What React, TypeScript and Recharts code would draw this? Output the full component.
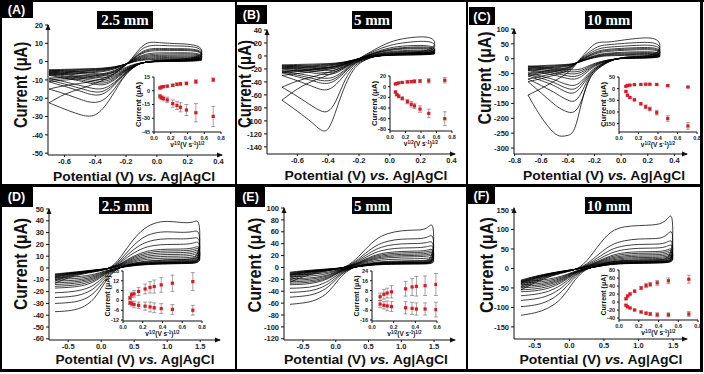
import React from "react";
import { LineChart, Line, XAxis, YAxis, ScatterChart, Scatter, ErrorBar } from "recharts";

const SANS = "'Liberation Sans', Arial, sans-serif";
const SERIF = "'Liberation Serif', 'Times New Roman', serif";

// square root of scan rate, (V s-1)^1/2
const sqrtRate = [0.071, 0.087, 0.112, 0.158, 0.224, 0.274, 0.316, 0.387, 0.5, 0.707];
const sqrtRateE = [0.075, 0.11, 0.14, 0.18, 0.31, 0.37, 0.41, 0.49, 0.59];

// ---- (A) 2.5 mm ----
const fwdA = [-0.7, -0.6, -0.5, -0.4, -0.3, -0.2, -0.15, -0.1, -0.05, 0, 0.1, 0.3];
const revA = [0.3, 0.1, 0, -0.1, -0.15, -0.2, -0.25, -0.3, -0.35, -0.4, -0.45, -0.5, -0.6, -0.7];
const cvA = [
  [-4.5, -4.2, -4, -3.8, -3.3, -1.5, 0, 0.8, 1.1, 1.2, 1.3, 1.5, 0.3, 0.1, 0, -0.5, -1.5, -3, -5, -6.5, -7, -6.5, -6, -5.6, -5, -4.5],
  [-5, -4.6, -4.3, -4.1, -3.5, -1.5, 0.1, 1.1, 1.5, 1.7, 1.8, 2, 0.4, 0.2, 0.1, -0.5, -1.7, -3.5, -5.8, -7.5, -8, -7.5, -7, -6.5, -5.8, -5],
  [-5.5, -5, -4.7, -4.4, -3.8, -1.5, 0.3, 1.5, 2, 2.2, 2.3, 2.5, 0.5, 0.3, 0.2, -0.5, -2, -4, -6.5, -8.5, -9, -8.5, -8, -7.5, -6.5, -5.5],
  [-6, -5.5, -5.1, -4.7, -4, -1.5, 0.5, 2, 2.6, 2.8, 2.9, 3.1, 0.6, 0.35, 0.25, -0.5, -2.1, -4.2, -7, -9.2, -10, -9.5, -8.9, -8.2, -7.1, -6],
  [-6.5, -6, -5.5, -5, -4.2, -1.5, 0.8, 2.5, 3.2, 3.4, 3.5, 3.8, 0.7, 0.4, 0.3, -0.5, -2.2, -4.5, -7.5, -10, -11, -10.5, -9.8, -9, -7.8, -6.5],
  [-7, -6.5, -6, -5.5, -4.6, -1.5, 1, 3, 3.8, 4.1, 4.2, 4.4, 0.75, 0.45, 0.3, -0.5, -2.3, -4.7, -8, -10.8, -12, -11.5, -10.7, -9.8, -8.4, -7],
  [-7.5, -7, -6.5, -6, -5, -1.5, 1.2, 3.5, 4.5, 4.8, 4.8, 5, 0.8, 0.5, 0.3, -0.5, -2.5, -5, -8.5, -11.5, -13, -12.5, -11.5, -10.5, -9, -7.5],
  [-9, -8.5, -8, -7.2, -6, -1.8, 1.5, 4.5, 5.8, 6, 6, 6.2, 1, 0.7, 0.4, -0.5, -2.5, -5.5, -9.5, -13, -15, -15, -14, -13, -11, -9],
  [-10, -9.2, -8.8, -7.8, -6.5, -1.9, 1.8, 5, 6.4, 6.7, 6.5, 6.7, 1.1, 0.75, 0.45, -0.5, -2.6, -5.7, -10, -14, -16.5, -16.8, -15.8, -14.5, -12.2, -10],
  [-11, -10, -9.5, -8.5, -7, -2, 2, 5.5, 7, 7.3, 7, 7.2, 1.2, 0.8, 0.5, -0.5, -2.8, -6, -10.5, -15, -18, -18.5, -17.5, -16, -13.5, -11],
  [-15, -13, -12, -10.5, -8, -2, 2.5, 7, 8.8, 9, 8.5, 8.5, 1.5, 1, 0.6, -0.5, -3, -6.5, -12, -17.5, -21.5, -22.5, -22, -20.5, -17.5, -15],
  [-22.5, -17.5, -15, -12, -8.5, -2, 3, 8.5, 10.8, 10.5, 9.8, 9.5, 2, 1.2, 0.8, -0.5, -3, -6.5, -13, -20, -26, -29.5, -30, -29, -26, -22.5],
];
const ipaA = [3, 4, 4.5, 5, 6, 7, 7.5, 8, 10, 12];
const ipaErrA = [1, 1, 1, 1, 1.2, 1.5, 1.5, 1.5, 2, 2];
const ipcA = [-6, -7.5, -8.5, -10, -14, -16, -18, -21, -24, -28];
const ipcErrA = [2, 2, 2.5, 3, 4, 4.5, 5, 6, 10, 11];

// ---- (B) 5 mm ----
const fwdB = [-0.7, -0.6, -0.5, -0.4, -0.3, -0.2, -0.1, 0, 0.1, 0.3];
const revB = [0.3, 0.1, 0, -0.1, -0.2, -0.25, -0.3, -0.35, -0.4, -0.45, -0.5, -0.6, -0.7];
const cvB = [
  [-14, -13, -12.5, -12, -10, -4, 1, 3, 4, 5, 2, 1.5, 1, 0, -4, -8, -13, -17, -18, -17.5, -16.5, -15, -14],
  [-15.5, -14.5, -13.8, -13, -10.5, -4, 1.5, 4, 5, 6, 2.2, 1.8, 1.2, 0, -4.5, -9, -15, -19.5, -20.5, -20, -19, -17, -15.5],
  [-17, -16, -15, -14, -11, -4, 2, 5, 6, 7, 2.5, 2, 1.5, 0, -5, -10, -17, -22, -23, -22, -21, -19, -17],
  [-18.5, -17.5, -16.5, -15, -11.5, -4, 2.5, 6, 7.2, 8.5, 2.8, 2.2, 1.8, 0, -5.5, -11, -18.5, -24.5, -26, -25, -23.5, -21, -18.5],
  [-20, -19, -18, -16, -12, -4, 3, 7, 8.5, 10, 3, 2.5, 2, 0, -6, -12, -20, -27, -29, -28, -26, -23, -20],
  [-23, -22, -20, -18, -13, -4, 4, 9, 11, 12, 3.5, 3, 2, 0, -6.5, -13, -23, -32, -35, -34, -31, -27, -23],
  [-24.5, -23, -21, -18.5, -13.5, -4, 4.5, 10, 12.2, 13.5, 3.8, 3, 2, 0, -6.8, -14, -25, -35, -39, -38, -34.5, -29.5, -24.5],
  [-26, -24, -22, -19, -14, -4, 5, 11, 13.5, 15, 4, 3, 2, 0, -7, -15, -27, -38, -43, -42, -38, -32, -26],
  [-30, -27, -24, -21, -15, -4, 6, 13, 16, 17, 4.5, 3.5, 2.5, 0, -7.5, -17, -31, -45, -53, -52, -47, -38, -30],
  [-48, -38, -32, -26, -17, -4, 8, 17, 21, 25, 6, 4, 3, 0, -9, -20, -40, -72, -88, -85, -78, -62, -48],
  [-68, -50, -38, -30, -19, -4, 10, 22, 28, 32, 8, 5, 3, 0, -10, -25, -50, -85, -118, -115, -103, -85, -68],
];
const ipaB = [5, 6, 7, 8, 9, 9.5, 10, 10.5, 11, 12];
const ipaErrB = [1, 1, 1, 1.5, 2, 2, 3, 3, 4, 5];
const ipcB = [-10, -15, -18, -22, -28, -33, -36, -42, -50, -60];
const ipcErrB = [2, 2, 3, 3, 4, 5, 5, 6, 8, 13];

// ---- (C) 10 mm ----
const fwdC = [-0.7, -0.6, -0.5, -0.4, -0.35, -0.3, -0.25, -0.2, -0.15, -0.1, 0, 0.1, 0.3];
const revC = [0.3, 0.1, 0, -0.1, -0.2, -0.25, -0.3, -0.35, -0.4, -0.45, -0.5, -0.6, -0.7];
const cvC = [
  [-25, -23, -21, -19, -16, -9, -2, 4, 8, 10, 11, 12, 13, 3, 2, 1, -3, -15, -25, -35, -38, -36, -34, -32, -28, -25],
  [-28, -26, -23.5, -20.5, -16.5, -8.5, -1, 5.5, 10, 12, 13.5, 14.5, 16, 3.5, 2.5, 1.5, -3.5, -17, -29, -41, -45, -43, -40, -37, -32, -28],
  [-32, -29, -26, -22, -17, -8, 0, 7, 12, 14, 16, 17, 19, 4, 3, 2, -4, -20, -33, -47, -52, -50, -46, -42, -37, -32],
  [-36, -32.5, -28.5, -24, -17.5, -7, 1.5, 9, 14, 16.5, 19, 20, 22, 4.5, 3.5, 2, -4.5, -22, -37, -54, -61, -58, -53, -48, -42, -36],
  [-40, -36, -31, -26, -18, -6, 3, 11, 16, 19, 22, 23, 25, 5, 4, 2, -5, -25, -42, -62, -70, -67, -61, -55, -47, -40],
  [-48, -43, -37, -30, -19, -4, 6, 16, 22, 25, 28, 30, 32, 6, 4, 3, -6, -30, -52, -78, -92, -88, -80, -70, -58, -48],
  [-53, -47, -40, -32, -19.5, -3, 8, 19, 25.5, 28.5, 31.5, 33.5, 36, 6.5, 4.5, 3, -6.5, -32, -57, -86, -105, -101, -92, -80, -65, -53],
  [-58, -51, -43, -34, -20, -2, 10, 22, 29, 32, 35, 37, 40, 7, 5, 3, -7, -35, -62, -95, -118, -115, -104, -90, -73, -58],
  [-68, -59, -49, -38, -21, 0, 14, 28, 36, 39, 42, 45, 48, 8, 6, 4, -8, -35, -65, -120, -147, -140, -128, -113, -90, -68],
  [-77, -67, -55, -42, -23, 2, 19, 36, 45, 47, 51, 54, 58, 10, 7, 5, -9, -40, -75, -150, -183, -180, -170, -155, -115, -77],
  [-122, -100, -75, -48, -26, 5, 28, 52, 57, 55, 62, 68, 75, 12, 8, 5, -10, -40, -70, -150, -250, -258, -262, -255, -200, -122],
];
const ipaC = [10, 14, 15, 17, 18, 19, 19, 18, 13, 7];
const ipaErrC = [2, 2, 2, 2, 3, 3, 3, 3, 4, 3];
const ipcC = [-12, -28, -38, -48, -65, -78, -87, -103, -128, -160];
const ipcErrC = [3, 4, 4, 4, 5, 8, 8, 10, 12, 14];

// ---- (D)(E)(F) share the potential grid ----
const fwdWide = [-0.7, -0.5, -0.25, 0, 0.2, 0.4, 0.6, 0.8, 1.0, 1.2, 1.4, 1.5];
const revWide = [1.5, 1.3, 1.0, 0.7, 0.5, 0.35, 0.2, 0.05, -0.1, -0.3, -0.5, -0.7];

const cvD = [
  [-5, -4, -2.5, -1, 0, 3, 5.5, 6.5, 7, 7, 7.5, 10, 4, 3.8, 3.5, 3, 2, 1, -0.6, -2.5, -5.5, -7.2, -7.8, -8],
  [-5.5, -4.2, -2.8, -1.1, 0, 3.8, 6.8, 8, 8.5, 8.5, 9, 12, 4.2, 4, 3.7, 3.2, 2.2, 1.1, -0.7, -3, -6.5, -8.6, -9.3, -9.5],
  [-6, -4.5, -3, -1.2, 0, 4.5, 8, 9.5, 10, 10, 10.5, 14, 4.5, 4.2, 4, 3.5, 2.5, 1.2, -0.8, -3.5, -7.5, -10, -10.8, -11],
  [-6.5, -4.8, -3.1, -1.3, 0.2, 5.2, 9.2, 11, 11.5, 11.5, 12, 15.5, 4.7, 4.5, 4.1, 3.6, 2.6, 1.3, -0.9, -4, -8.5, -11.2, -12.2, -12.5],
  [-7, -5, -3.2, -1.4, 0.3, 6, 10.5, 12.5, 13, 13, 13.5, 17, 5, 4.7, 4.3, 3.8, 2.8, 1.4, -1, -4.5, -9.5, -12.5, -13.5, -14],
  [-7.5, -5.2, -3.3, -1.5, 0.3, 6.8, 11.8, 14, 14.5, 14.5, 15, 18.5, 5.2, 4.8, 4.5, 3.9, 2.9, 1.5, -1.1, -5, -10.7, -14, -15, -15.5],
  [-8, -5.5, -3.5, -1.6, 0.3, 7.5, 13, 15.5, 16, 16, 16.5, 20, 5.5, 5, 4.7, 4, 3, 1.6, -1.2, -5.5, -12, -15.5, -16.5, -17],
  [-9, -6, -3.8, -1.8, 0.5, 9.5, 16.5, 19.5, 20, 20, 20.5, 24, 6, 5.5, 5, 4.2, 3.2, 1.8, -1.4, -6.5, -15, -19, -20.5, -21],
  [-10, -6.5, -4, -2, 0.5, 11.5, 20.5, 24, 25, 24.5, 25, 27, 6.5, 6, 5.5, 4.5, 3.4, 2, -1.6, -8, -18, -23, -24.5, -25],
  [-11, -7, -4.3, -2.2, 0.8, 14, 25.5, 30, 31, 30, 30.5, 33, 7, 6.5, 6, 5, 3.6, 2.2, -1.8, -10, -22, -28, -29.5, -30],
  [-13, -8, -4.6, -2.4, 1, 18, 32, 38.5, 40, 38.5, 38, 43, 8, 7.5, 7, 5.5, 4, 2.4, -2, -12, -27, -34.5, -36.5, -37],
];
const ipaD = [1.5, 3.5, 4, 5.5, 7, 8, 8.5, 9.5, 10.5, 11.5];
const ipaErrD = [1, 1.5, 2, 2.5, 3, 3.5, 4, 4.5, 5, 5.5];
const ipcD = [-1.5, -2, -2.5, -3, -3.5, -4, -4.5, -5, -5.5, -6];
const ipcErrD = [1, 1.5, 2, 2, 2.5, 3, 3, 3, 3, 3];

const cvE = [
  [-8, -5.5, -3.5, -1.5, 0, 5, 9, 10.5, 11, 11.5, 12, 14, 6, 5.8, 5.5, 5, 3.5, 1.5, -0.5, -3.5, -8, -11, -11.8, -12],
  [-9, -6.2, -4, -1.8, 0.2, 6.2, 11.5, 13.5, 14.2, 14.7, 15.2, 18, 6.5, 6.3, 6, 5.5, 3.7, 1.7, -0.8, -4.2, -10, -14, -15, -15.5],
  [-10, -7, -4.5, -2, 0.3, 7.5, 14, 16.5, 17.5, 18, 18.5, 22, 7, 6.8, 6.5, 6, 4, 1.8, -1, -5, -12.5, -17, -18.5, -19],
  [-11, -7.5, -4.7, -2.2, 0.4, 8.5, 15.8, 18.8, 19.8, 20.2, 20.8, 25, 7.2, 7, 6.7, 6.2, 4.1, 1.9, -1.1, -5.7, -14, -19, -21, -21.5],
  [-12, -8, -5, -2.3, 0.5, 9.5, 17.5, 21, 22, 22.5, 23, 28, 7.5, 7.2, 7, 6.5, 4.3, 2, -1.3, -6.5, -16, -21.5, -23.5, -24],
  [-13, -8.5, -5.2, -2.4, 0.6, 10.5, 19.5, 23.2, 24.5, 25, 25.5, 31, 7.8, 7.5, 7.2, 6.8, 4.5, 2.1, -1.5, -7.2, -17.5, -23.8, -26, -26.5],
  [-14, -9, -5.5, -2.6, 0.7, 11.5, 21.5, 25.5, 27, 27.5, 28, 34, 8, 7.7, 7.5, 7, 4.6, 2.2, -1.6, -8, -19, -26, -28.5, -29],
  [-16, -10, -6, -2.9, 1, 13.5, 26, 31, 33, 33, 34, 40, 8.5, 8.2, 8, 7.5, 5, 2.5, -2, -10, -23, -32, -34.5, -35],
  [-18, -11.5, -6.5, -3.2, 1.2, 16, 31, 37.5, 40, 40, 41, 47, 9, 8.7, 8.5, 8, 5.3, 2.7, -2.4, -12, -28, -38, -41, -42],
  [-21, -13, -7, -3.5, 1.5, 19, 37, 45, 48, 48, 49, 60, 10, 9.5, 9, 8.5, 5.7, 3, -2.8, -14, -33, -45, -48.5, -50],
  [-25, -15, -8, -4, 2, 24, 48, 58, 62, 63, 63, 82, 11, 10.5, 10, 9, 6, 3.3, -3.5, -18, -42, -56, -60, -62],
];
const ipaE = [3, 5, 6, 7, 9.5, 11, 11.5, 12, 13];
const ipaErrE = [3, 4, 4, 5, 6, 7, 8, 8, 9];
const ipcE = [-3, -4, -4.5, -5, -6, -6.5, -7, -7, -7.5];
const ipcErrE = [3, 3, 4, 4, 5, 5, 5, 5, 6];

const cvF = [
  [-30, -20, -11, -4, 0, 9, 17, 21, 22, 22, 23, 30, 15, 14, 13, 12, 8, 3, -1, -9, -20, -28, -32, -33],
  [-31.5, -21, -11.5, -4.2, 0.3, 10, 19.5, 24, 25, 25, 26, 34, 15.5, 14.5, 13.5, 12.5, 8.2, 3.1, -1.2, -10, -22.5, -32, -36, -37.5],
  [-33, -22, -12, -4.5, 0.5, 11, 22, 27, 28, 28, 29, 38, 16, 15, 14, 13, 8.5, 3.2, -1.5, -11, -25, -36, -40, -42],
  [-34.5, -23, -12.5, -4.7, 0.7, 12.5, 25, 30, 31.5, 31.5, 32.5, 42, 16.5, 15.5, 14.5, 13.5, 8.7, 3.3, -1.7, -12, -27.5, -39.5, -44, -46],
  [-36, -24, -13, -5, 1, 14, 28, 33, 35, 35, 36, 47, 17, 16, 15, 14, 9, 3.4, -2, -13, -30, -43, -48, -50],
  [-37.5, -25, -13.5, -5.2, 1.2, 15.5, 31, 37, 39, 39, 40, 52, 17.5, 16.5, 15.5, 14.5, 9.5, 3.5, -2.2, -14.5, -33, -47.5, -53, -55],
  [-39, -26, -14, -5.5, 1.5, 17, 34, 41, 43, 43, 44, 57, 18, 17, 16, 15, 10, 3.6, -2.5, -16, -36, -52, -58, -60],
  [-42, -28, -15, -6, 2, 21, 41, 49, 52, 52, 53, 68, 19, 18, 17, 16, 11, 3.8, -3, -19, -42, -60, -67, -70],
  [-46, -30, -16, -6.5, 2.5, 26, 50, 59, 62, 62, 63, 80, 20, 19, 18, 17, 12, 4, -3.5, -22, -50, -71, -79, -82],
  [-50, -33, -17, -7, 3, 33, 62, 72, 76, 76, 78, 111, 21, 20, 19, 18, 13, 4.2, -4, -27, -60, -85, -95, -98],
  [-55, -36, -18, -7.5, 4, 55, 98, 108, 110, 111, 116, 156, 23, 22, 21, 20, 14, 4.5, -5, -35, -78, -103, -115, -120],
];
const ipaF = [8, 15, 20, 27, 35, 41, 44, 48, 53, 57];
const ipaErrF = [2, 2, 3, 3, 4, 5, 5, 6, 7, 10];
const ipcF = [-8, -12, -15, -20, -25, -28, -30, -32, -32, -30];
const ipcErrF = [2, 2, 2, 2, 3, 3, 4, 5, 5, 6];

const ticksNarrow = [-0.6, -0.4, -0.2, 0, 0.2, 0.4];
const ticksWide = [-0.5, 0, 0.5, 1.0, 1.5];
const insetX8 = [0, 0.2, 0.4, 0.6, 0.8];

type Box = { x0: number; x1: number; yTop: number; yBot: number };

const panels = [
  {
    tag: "(A)", size: "2.5 mm", frame: [2, 2, 235, 184], tagBox: [0, 0, 33, 18], sizeBox: [97, 11, 56, 18],
    pot: [...fwdA, ...revA], curves: cvA,
    xDomain: [-0.707, 0.423], xTicks: ticksNarrow, yDomain: [-51, 20], yTicks: [-50, -40, -30, -20, -10, 0, 10, 20],
    plot: { x0: 48, x1: 222, yTop: 25, yBot: 155 }, yTitle: [21, 85, 86], xTitle: [134, 181, 162],
    inset: { box: { x0: 154, x1: 221, yTop: 77, yBot: 132 }, xs: sqrtRate, up: ipaA, upErr: ipaErrA, down: ipcA, downErr: ipcErrA, xDomain: [0, 0.8], xTicks: insetX8, yDomain: [-45, 15], yTicks: [-45, -30, -15, 0, 15] },
  },
  {
    tag: "(B)", size: "5 mm", frame: [237, 2, 466, 184], tagBox: [236, 5, 31, 19], sizeBox: [352, 11, 40, 18],
    pot: [...fwdB, ...revB], curves: cvB,
    xDomain: [-0.797, 0.423], xTicks: ticksNarrow, yDomain: [-151, 40], yTicks: [-140, -120, -100, -80, -60, -40, -20, 0, 20, 40],
    plot: { x0: 267, x1: 455, yTop: 30, yBot: 154 }, yTitle: [245, 84, 88], xTitle: [366, 180, 163],
    inset: { box: { x0: 390, x1: 452, yTop: 76, yBot: 131 }, xs: sqrtRate, up: ipaB, upErr: ipaErrB, down: ipcB, downErr: ipcErrB, xDomain: [0, 0.8], xTicks: insetX8, yDomain: [-83, 20], yTicks: [-80, -60, -40, -20, 0, 20] },
  },
  {
    tag: "(C)", size: "10 mm", frame: [468, 2, 700, 184], tagBox: [469, 7, 26, 18], sizeBox: [585, 11, 47, 18],
    pot: [...fwdC, ...revC], curves: cvC,
    xDomain: [-0.805, 0.495], xTicks: [-0.8, -0.6, -0.4, -0.2, 0, 0.2, 0.4], yDomain: [-320, 100], yTicks: [-300, -250, -200, -150, -100, -50, 0, 50, 100],
    plot: { x0: 514, x1: 687, yTop: 29, yBot: 154 }, yTitle: [485, 78, 93], xTitle: [604, 179.5, 162],
    inset: { box: { x0: 619, x1: 697, yTop: 77, yBot: 132 }, xs: sqrtRate, up: ipaC, upErr: ipaErrC, down: ipcC, downErr: ipcErrC, xDomain: [0, 0.8], xTicks: insetX8, yDomain: [-186, 50], yTicks: [-150, -100, -50, 0, 50] },
  },
  {
    tag: "(D)", size: "2.5 mm", frame: [2, 187, 235, 369], tagBox: [0, 186, 33, 21], sizeBox: [99, 197, 53, 17],
    pot: [...fwdWide, ...revWide], curves: cvD,
    xDomain: [-0.79, 1.8], xTicks: ticksWide, yDomain: [-61, 50], yTicks: [-60, -50, -40, -30, -20, -10, 0, 10, 20, 30, 40, 50],
    plot: { x0: 49, x1: 220, yTop: 209, yBot: 340 }, yTitle: [21, 264, 92], xTitle: [135, 364, 159],
    inset: { box: { x0: 123, x1: 202, yTop: 271, yBot: 321 }, xs: sqrtRate, up: ipaD, upErr: ipaErrD, down: ipcD, downErr: ipcErrD, xDomain: [0, 0.8], xTicks: insetX8, yDomain: [-12.6, 18], yTicks: [-12, -6, 0, 6, 12, 18] },
  },
  {
    tag: "(E)", size: "5 mm", frame: [237, 187, 466, 369], tagBox: [236, 186, 29, 21], sizeBox: [352, 197, 40, 17],
    pot: [...fwdWide, ...revWide], curves: cvE,
    xDomain: [-0.79, 1.82], xTicks: ticksWide, yDomain: [-122, 100], yTicks: [-120, -100, -80, -60, -40, -20, 0, 20, 40, 60, 80, 100],
    plot: { x0: 284, x1: 455, yTop: 208, yBot: 340 }, yTitle: [255, 265, 95], xTitle: [366, 364, 164],
    inset: { box: { x0: 372, x1: 437, yTop: 271, yBot: 321 }, xs: sqrtRateE, up: ipaE, upErr: ipaErrE, down: ipcE, downErr: ipcErrE, xDomain: [0, 0.6], xTicks: [0, 0.2, 0.4, 0.6], yDomain: [-16.8, 24], yTicks: [-16, -8, 0, 8, 16, 24] },
  },
  {
    tag: "(F)", size: "10 mm", frame: [468, 187, 700, 369], tagBox: [468, 186, 27, 18], sizeBox: [585, 197, 47, 17],
    pot: [...fwdWide, ...revWide], curves: cvF,
    xDomain: [-0.8, 1.7], xTicks: ticksWide, yDomain: [-181, 155], yTicks: [-150, -100, -50, 0, 50, 100, 150],
    plot: { x0: 514, x1: 687, yTop: 208, yBot: 339 }, yTitle: [487, 265, 96], xTitle: [601, 364, 163],
    inset: { box: { x0: 619, x1: 698, yTop: 270, yBot: 320 }, xs: sqrtRate, up: ipaF, upErr: ipaErrF, down: ipcF, downErr: ipcErrF, xDomain: [0, 0.8], xTicks: insetX8, yDomain: [-45, 80], yTicks: [-40, -20, 0, 20, 40, 60, 80] },
  },
];

const tickMain = { fontSize: 7.5, fill: "#222", fontFamily: SANS, fontWeight: 700 };
const tickInset = { fontSize: 5.5, fill: "#222", fontFamily: SANS, fontWeight: 700 };

const RedSquare = (props: any) =>
  props.cx == null ? null : <rect x={props.cx - 1.6} y={props.cy - 1.6} width={3.2} height={3.2} fill="#e8141c" />;

function MainChart({ p }: { p: any }) {
  const [L, T, R, B] = p.frame;
  const { x0, x1, yTop, yBot } = p.plot as Box;
  const lines = p.curves.map((ys: number[]) => ys.map((y, i) => ({ x: p.pot[i], y })));
  return (
    <div style={{ position: "absolute", left: L, top: T }}>
      <LineChart width={R - L} height={B - T} margin={{ top: yTop - T, right: R - x1, bottom: 0, left: 0 }}>
        <XAxis type="number" dataKey="x" domain={p.xDomain} ticks={p.xTicks} allowDataOverflow interval={0}
          height={B - yBot} tickSize={2} tick={tickMain} stroke="#111" tickFormatter={(v: number) => v.toFixed(1)} />
        <YAxis type="number" domain={p.yDomain} ticks={p.yTicks} allowDataOverflow interval={0}
          width={x0 - L} tickSize={3} tick={tickMain} stroke="#111" />
        {lines.map((d: any[], i: number) => (
          <Line key={i} data={d} dataKey="y" type="basis" stroke="#000" strokeWidth={0.75} dot={false} isAnimationActive={false} />
        ))}
      </LineChart>
    </div>
  );
}

function InsetChart({ s }: { s: any }) {
  const { x0, x1, yTop, yBot } = s.box as Box;
  const padL = 22, padR = 8, padT = 4, axH = 11;
  const up = s.xs.map((x: number, i: number) => ({ x, y: s.up[i], e: s.upErr[i] }));
  const down = s.xs.map((x: number, i: number) => ({ x, y: s.down[i], e: s.downErr[i] }));
  return (
    <div style={{ position: "absolute", left: x0 - padL, top: yTop - padT }}>
      <ScatterChart width={x1 - x0 + padL + padR} height={yBot - yTop + padT + axH} margin={{ top: padT, right: padR, bottom: 0, left: 0 }}>
        <XAxis type="number" dataKey="x" domain={s.xDomain} ticks={s.xTicks} allowDataOverflow interval={0}
          height={axH} tickSize={2} tick={tickInset} stroke="#111" tickFormatter={(v: number) => v.toFixed(1)} />
        <YAxis type="number" dataKey="y" domain={s.yDomain} ticks={s.yTicks} allowDataOverflow interval={0}
          width={padL} tickSize={2} tick={tickInset} stroke="#111" />
        <Scatter data={up} fill="#e8141c" shape={RedSquare} isAnimationActive={false}>
          <ErrorBar dataKey="e" direction="y" width={2} stroke="#666" strokeWidth={0.6} />
        </Scatter>
        <Scatter data={down} fill="#e8141c" shape={RedSquare} isAnimationActive={false}>
          <ErrorBar dataKey="e" direction="y" width={2} stroke="#666" strokeWidth={0.6} />
        </Scatter>
      </ScatterChart>
    </div>
  );
}

function Decorations() {
  return (
    <svg width={704} height={374} style={{ position: "absolute", left: 0, top: 0, pointerEvents: "none" }}>
      <rect x={0} y={0} width={704} height={2} fill="#000" />
      <rect x={0} y={184} width={703} height={3} fill="#000" />
      <rect x={0} y={369} width={703} height={3} fill="#000" />
      <rect x={0} y={0} width={2} height={372} fill="#000" />
      <rect x={235} y={0} width={2} height={372} fill="#000" />
      <rect x={466} y={0} width={2} height={372} fill="#000" />
      <rect x={700} y={0} width={3} height={372} fill="#000" />
      {panels.map((p) => {
        const { x0, x1, yTop, yBot } = p.plot;
        const ib = p.inset.box;
        const [tx, ty, tw, th] = p.tagBox;
        const [sx, sy, sw, sh] = p.sizeBox;
        return (
          <g key={p.tag}>
            <rect x={tx} y={ty} width={tw} height={th} fill="#000" />
            <text x={tx + tw / 2} y={ty + th / 2 + 4.5} textAnchor="middle" fill="#fff" fontFamily={SANS} fontWeight="bold" fontSize={12.5}>{p.tag}</text>
            <rect x={sx} y={sy} width={sw} height={sh} fill="#000" />
            <text x={sx + sw / 2} y={sy + sh / 2 + 5} textAnchor="middle" fill="#fff" fontFamily={SERIF} fontWeight="bold" fontSize={15}>{p.size}</text>
            <polygon points={`${x0 - 2.5},${yTop + 5} ${x0},${yTop - 1} ${x0 + 2.5},${yTop + 5}`} fill="#111" />
            <polygon points={`${x1 - 5},${yBot - 2.5} ${x1 + 1},${yBot} ${x1 - 5},${yBot + 2.5}`} fill="#111" />
            <text transform={`translate(${p.yTitle[0]},${p.yTitle[1]}) scale(1.25,1) rotate(-90)`} textAnchor="middle" dominantBaseline="central"
              fontFamily={SANS} fontWeight="bold" fontSize={14} fill="#111" textLength={p.yTitle[2]} lengthAdjust="spacingAndGlyphs">Current (μA)</text>
            <text x={p.xTitle[0]} y={p.xTitle[1]} textAnchor="middle" fontFamily={SANS} fontWeight="bold" fontSize={13} fill="#111"
              textLength={p.xTitle[2]} lengthAdjust="spacingAndGlyphs">Potential (V) <tspan fontStyle="italic">vs.</tspan> Ag|AgCl</text>
            <text transform={`translate(${ib.x0 - 16},${(ib.yTop + ib.yBot) / 2}) rotate(-90)`} textAnchor="middle" dominantBaseline="central"
              fontFamily={SANS} fontWeight="bold" fontSize={7} fill="#111" textLength={(ib.yBot - ib.yTop) * 0.82} lengthAdjust="spacingAndGlyphs">Current (μA)</text>
            <text x={(ib.x0 + ib.x1) / 2} y={ib.yBot + 15} textAnchor="middle" fontFamily={SANS} fontWeight="bold" fontSize={6.5} fill="#111">
              v<tspan dy={-2.5} fontSize={4.5}>1/2</tspan><tspan dy={2.5}>(V s</tspan><tspan dy={-2.5} fontSize={4.5}>-1</tspan><tspan dy={2.5}>)</tspan><tspan dy={-2.5} fontSize={4.5}>1/2</tspan>
            </text>
          </g>
        );
      })}
    </svg>
  );
}

export default function App() {
  return (
    <div style={{ position: "absolute", left: 0, top: 0, width: 704, height: 374, background: "#fff", overflow: "hidden" }}>
      {panels.map((p) => (
        <React.Fragment key={p.tag}>
          <MainChart p={p} />
          <InsetChart s={p.inset} />
        </React.Fragment>
      ))}
      <Decorations />
    </div>
  );
}
